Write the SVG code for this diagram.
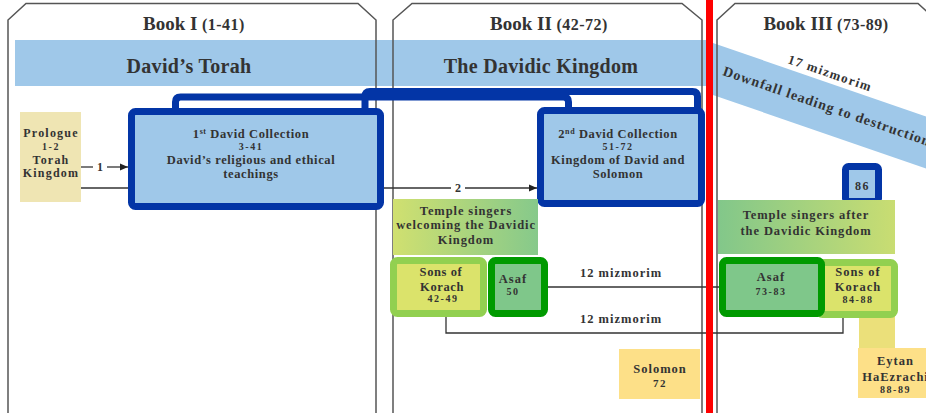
<svg xmlns="http://www.w3.org/2000/svg" width="926" height="413" viewBox="0 0 926 413">
<style>
.t{font-family:"Liberation Serif","Times New Roman",serif;font-weight:bold;fill:#333;text-anchor:middle}
.title{font-size:19px}
.sub{font-size:16px;letter-spacing:0.5px}
.band{font-size:20px;letter-spacing:0.3px}
.lbl{font-size:12.5px;letter-spacing:0.6px}
.wide{font-size:12.5px;letter-spacing:0.9px}
.pro{font-size:12px;letter-spacing:1.2px}
.num{font-size:10px;letter-spacing:1.5px}
.panel{fill:none;stroke:#555;stroke-width:1.5}
.line{fill:none;stroke:#333;stroke-width:1.3}
.bracket{fill:none;stroke:#0335a6;stroke-width:7;stroke-linejoin:round}
.dblue{fill:#9fc8e9;stroke:#0335a6;stroke-width:7}
.lgreen{fill:#dbe36b;stroke:#92d050;stroke-width:7}
.dgreen{fill:#7fc78a;stroke:#009a00;stroke-width:7}
</style>
<defs>
<linearGradient id="gTS2" x1="0" y1="0" x2="1" y2="0"><stop offset="0" stop-color="#d0e070"/><stop offset="1" stop-color="#86c98b"/></linearGradient>
<linearGradient id="gTS3" x1="0" y1="0" x2="1" y2="0"><stop offset="0" stop-color="#82c78a"/><stop offset="1" stop-color="#c9dd72"/></linearGradient>
<marker id="arr" markerWidth="8" markerHeight="8" refX="8" refY="4" orient="auto" markerUnits="userSpaceOnUse"><path d="M0,0.5 L8,4 L0,7.5 Z" fill="#222"/></marker>
</defs>
<rect width="926" height="413" fill="#fff"/>

<g id="bands">
<rect x="15" y="40" width="696" height="46" fill="#9fc8e9"/>
<polygon points="710,42 945,123 945,175 710,94" fill="#9fc8e9"/>
<text class="t band" x="189" y="73">David’s Torah</text>
<text class="t band" x="541" y="73">The Davidic Kingdom</text>
<text class="t" style="font-size:13px;letter-spacing:1.3px;text-anchor:start" transform="translate(787,63) rotate(19)">17 mizmorim</text>
<text class="t" style="font-size:14px;letter-spacing:1px;text-anchor:start" transform="translate(722,75) rotate(19)">Downfall leading to destruction</text>
</g>

<g id="book1">
<path class="panel" d="M8,413 V20 L26,3.5 H358 L376,20 V413"/>
<text class="t" x="194" y="30"><tspan class="title">Book I</tspan><tspan class="sub"> (1-41)</tspan></text>
</g>
<g id="book2">
<path class="panel" d="M393,413 V20 L412,3.5 H682 L702,20 V413"/>
<text class="t" x="549" y="30"><tspan class="title">Book II</tspan><tspan class="sub"> (42-72)</tspan></text>
</g>
<g id="book3">
<path class="panel" d="M717,413 V20 L735,3.5 H918 L936,20 V413"/>
<text class="t" x="826" y="30"><tspan class="title">Book III</tspan><tspan class="sub"> (73-89)</tspan></text>
</g>

<g id="connectors">
<path class="bracket" d="M175.5,112 V102 Q175.5,97 180.5,97 H563.5 Q568.5,97 568.5,102 V112"/>
<path class="bracket" d="M365,112 V96.5 Q365,91.5 370,91.5 H692.5 Q697.5,91.5 697.5,96.5 V112"/>
<line class="line" x1="81" y1="167" x2="93" y2="167"/>
<line class="line" x1="107" y1="167" x2="128" y2="167" marker-end="url(#arr)"/>
<text class="t" style="font-size:12px" x="100" y="171">1</text>
<line class="line" x1="81" y1="188" x2="451" y2="188"/>
<line class="line" x1="465" y1="188" x2="537" y2="188" marker-end="url(#arr)"/>
<text class="t" style="font-size:12px" x="458" y="192">2</text>
<line class="line" x1="540" y1="287" x2="720" y2="287"/>
<text class="t wide" style="letter-spacing:1px" x="621" y="277">12 mizmorim</text>
<path class="line" d="M446,316 V333 H843 V312"/>
<text class="t wide" style="letter-spacing:1px" x="621" y="323">12 mizmorim</text>
</g>

<g id="prologue">
<rect x="20" y="112" width="61" height="90" fill="#efe5b3"/>
<text class="t pro" x="51" y="137">Prologue</text>
<text class="t num" x="51" y="150">1-2</text>
<text class="t pro" x="51" y="164">Torah</text>
<text class="t pro" x="51" y="177">Kingdom</text>
</g>

<g id="david1">
<rect class="dblue" x="131.5" y="111.5" width="249" height="95" rx="4"/>
<text class="t lbl" x="251" y="138">1<tspan font-size="8" dy="-4">st</tspan><tspan dy="4"> David Collection</tspan></text>
<text class="t num" x="251" y="149.5">3-41</text>
<text class="t lbl" x="251" y="164">David’s religious and ethical</text>
<text class="t lbl" x="251" y="178">teachings</text>
</g>

<g id="david2">
<rect class="dblue" x="540.5" y="110.5" width="161" height="93" rx="4"/>
<text class="t lbl" x="618" y="138">2<tspan font-size="8" dy="-4">nd</tspan><tspan dy="4"> David Collection</tspan></text>
<text class="t num" x="618" y="149.5">51-72</text>
<text class="t lbl" x="618" y="164">Kingdom of David and</text>
<text class="t lbl" x="618" y="178">Solomon</text>
</g>

<g id="temple2">
<rect x="393" y="199" width="145" height="56" fill="url(#gTS2)"/>
<text class="t wide" x="466" y="215">Temple singers</text>
<text class="t wide" x="466" y="229">welcoming the Davidic</text>
<text class="t wide" x="466" y="244">Kingdom</text>
</g>

<g id="korach2">
<rect class="lgreen" x="393.5" y="260.5" width="90" height="53" rx="4"/>
<text class="t lbl" x="441" y="276">Sons of</text>
<text class="t lbl" x="442" y="291">Korach</text>
<text class="t num" x="443" y="302">42-49</text>
</g>

<g id="asaf50">
<rect class="dgreen" x="491.5" y="260.5" width="53" height="53" rx="4"/>
<text class="t lbl" style="letter-spacing:1px" x="513" y="283">Asaf</text>
<text class="t num" x="513" y="295">50</text>
</g>

<g id="solomon">
<rect x="619" y="349" width="81" height="50" fill="#fde088"/>
<text class="t lbl" style="letter-spacing:1px" x="660" y="373">Solomon</text>
<text class="t" style="font-size:11px;letter-spacing:1.5px" x="660" y="387">72</text>
</g>

<g id="ps86">
<rect class="dblue" x="845.5" y="166.5" width="33" height="35" rx="3"/>
<text class="t" style="font-size:12px;letter-spacing:1.5px" x="862.5" y="190">86</text>
</g>

<g id="temple3">
<rect x="718" y="200" width="177" height="54" fill="url(#gTS3)"/>
<text class="t wide" x="806" y="219">Temple singers after</text>
<text class="t wide" x="806" y="235">the Davidic Kingdom</text>
</g>

<g id="eytan">
<rect x="859" y="315" width="36" height="36" fill="#ebe07a"/>
<rect x="858" y="348" width="72" height="50" fill="#fde088"/>
<text class="t lbl" style="letter-spacing:1px" x="895.5" y="365">Eytan</text>
<text class="t lbl" style="letter-spacing:1px" x="895.5" y="381">HaEzrachi</text>
<text class="t num" x="895.5" y="393">88-89</text>
</g>

<g id="korach3">
<rect class="lgreen" x="818.5" y="262.5" width="76" height="52" rx="4"/>
<text class="t lbl" style="letter-spacing:1px" x="858" y="276">Sons of</text>
<text class="t lbl" style="letter-spacing:1px" x="858" y="291">Korach</text>
<text class="t num" x="858" y="303">84-88</text>
</g>

<g id="asaf73">
<rect class="dgreen" x="722.5" y="260.5" width="99" height="53" rx="4"/>
<text class="t lbl" style="letter-spacing:1px" x="771" y="281">Asaf</text>
<text class="t num" x="771" y="295">73-83</text>
</g>

<g id="divider">
<rect x="706" y="0" width="7" height="413" fill="#ff0000"/>
</g>
</svg>
